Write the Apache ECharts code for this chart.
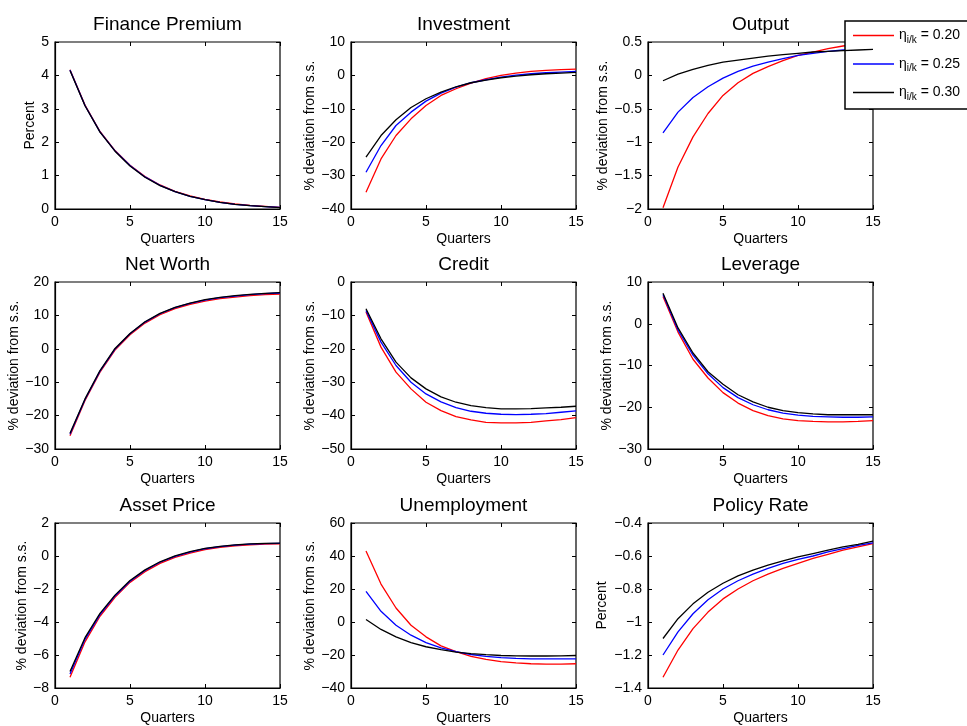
<!DOCTYPE html>
<html><head><meta charset="utf-8">
<title>Impulse responses</title>
<script src="https://cdn.jsdelivr.net/npm/echarts@6/dist/echarts.min.js"></script>
<style>
  html, body { margin: 0; padding: 0; background: #fff; }
  #chart { width: 967px; height: 726px; }
</style>
</head>
<body>
<div id="chart"></div>
<script>
// horizon
var quarters = [1, 2, 3, 4, 5, 6, 7, 8, 9, 10, 11, 12, 13, 14, 15];
var etaLabels = ['0.20', '0.25', '0.30'];
var lineColors = ['#ff0000', '#0000ff', '#000000'];

// Finance Premium
var finRed   = [4.17, 3.11, 2.32, 1.75, 1.31, 0.97, 0.72, 0.53, 0.39, 0.29, 0.21, 0.15, 0.11, 0.08, 0.05];
var finBlue  = [4.16, 3.10, 2.31, 1.74, 1.30, 0.96, 0.71, 0.52, 0.38, 0.28, 0.20, 0.14, 0.10, 0.07, 0.05];
var finBlack = [4.15, 3.09, 2.30, 1.73, 1.29, 0.95, 0.70, 0.52, 0.38, 0.28, 0.20, 0.14, 0.10, 0.07, 0.04];
// Investment
var invRed   = [-35, -25, -18, -13, -9, -6, -4, -2.3, -1, 0, 0.7, 1.2, 1.5, 1.7, 1.9];
var invBlue  = [-29, -21, -15, -11, -7.7, -5.3, -3.5, -2.2, -1.3, -0.5, 0.1, 0.5, 0.8, 1.0, 1.2];
var invBlack = [-24.5, -18, -13.3, -9.6, -7, -5, -3.4, -2.2, -1.4, -0.7, -0.2, 0.2, 0.5, 0.7, 0.9];
// Output
var outRed   = [-1.98, -1.37, -0.92, -0.57, -0.30, -0.11, 0.03, 0.13, 0.22, 0.30, 0.35, 0.40, 0.44, 0.47, 0.50];
var outBlue  = [-0.86, -0.55, -0.33, -0.17, -0.04, 0.06, 0.14, 0.20, 0.25, 0.30, 0.33, 0.36, 0.38, 0.39, 0.41];
var outBlack = [-0.08, 0.02, 0.09, 0.15, 0.20, 0.23, 0.26, 0.29, 0.31, 0.33, 0.35, 0.36, 0.37, 0.38, 0.39];
// Net Worth
var nwRed    = [-26, -15.5, -7, -0.4, 4.2, 7.7, 10.2, 12.0, 13.3, 14.3, 15.0, 15.5, 15.9, 16.2, 16.4];
var nwBlue   = [-25.6, -15.2, -6.7, -0.1, 4.5, 8.0, 10.5, 12.3, 13.6, 14.6, 15.3, 15.8, 16.2, 16.5, 16.7];
var nwBlack  = [-25.3, -15, -6.5, 0.1, 4.6, 8.1, 10.6, 12.4, 13.7, 14.7, 15.4, 15.9, 16.3, 16.6, 16.8];
// Credit
var crRed    = [-9, -19.5, -27, -32, -36, -38.5, -40.3, -41.3, -42, -42.2, -42.2, -42, -41.6, -41.2, -40.6];
var crBlue   = [-8.5, -18, -25, -30, -33.5, -35.9, -37.6, -38.7, -39.3, -39.6, -39.7, -39.6, -39.4, -39.0, -38.6];
var crBlack  = [-8, -17, -24, -28.7, -32, -34.4, -36, -37, -37.6, -38, -38, -37.9, -37.7, -37.5, -37.2];
// Leverage
var levRed   = [6.5, -2, -8.5, -13, -16.5, -19, -20.8, -22, -22.8, -23.2, -23.4, -23.5, -23.5, -23.4, -23.2];
var levBlue  = [7, -1.5, -7.5, -12, -15.3, -17.7, -19.4, -20.6, -21.4, -21.9, -22.2, -22.3, -22.4, -22.4, -22.3];
var levBlack = [7.3, -1, -7, -11.5, -14.5, -17, -18.7, -20, -20.8, -21.3, -21.6, -21.8, -21.8, -21.8, -21.8];
// Asset Price
var apRed    = [-7.35, -5.2, -3.65, -2.5, -1.6, -0.95, -0.45, -0.08, 0.18, 0.38, 0.52, 0.62, 0.68, 0.72, 0.74];
var apBlue   = [-7.15, -5.05, -3.55, -2.42, -1.53, -0.88, -0.38, -0.02, 0.24, 0.44, 0.57, 0.66, 0.72, 0.75, 0.77];
var apBlack  = [-7.0, -4.95, -3.48, -2.37, -1.48, -0.84, -0.35, 0.01, 0.26, 0.46, 0.58, 0.67, 0.73, 0.76, 0.78];
// Unemployment
var unRed    = [43, 23, 8.5, -2, -9, -14.5, -18, -20.8, -22.7, -24, -24.8, -25.3, -25.5, -25.5, -25.3];
var unBlue   = [18.5, 6.5, -2, -8, -12.5, -15.7, -18, -19.7, -20.8, -21.6, -22, -22.3, -22.4, -22.4, -22.3];
var unBlack  = [1.5, -4.5, -9, -12.5, -15, -16.8, -18.2, -19.2, -19.8, -20.3, -20.5, -20.6, -20.6, -20.5, -20.3];
// Policy Rate
var prRed    = [-1.335, -1.17, -1.04, -0.94, -0.86, -0.80, -0.75, -0.71, -0.675, -0.645, -0.615, -0.59, -0.565, -0.545, -0.525];
var prBlue   = [-1.20, -1.06, -0.95, -0.865, -0.80, -0.75, -0.71, -0.675, -0.645, -0.62, -0.60, -0.575, -0.555, -0.535, -0.52];
var prBlack  = [-1.10, -0.98, -0.89, -0.82, -0.765, -0.72, -0.685, -0.655, -0.63, -0.605, -0.585, -0.565, -0.545, -0.53, -0.51];

var panels = [
  {title: 'Finance Premium', ylab: 'Percent', min: 0, max: 5, step: 1, gap: 17, lines: [finRed, finBlue, finBlack]},
  {title: 'Investment', ylab: '% deviation from s.s.', min: -40, max: 10, step: 10, gap: 31, lines: [invRed, invBlue, invBlack]},
  {title: 'Output', ylab: '% deviation from s.s.', min: -2, max: 0.5, step: 0.5, gap: 37, lines: [outRed, outBlue, outBlack]},
  {title: 'Net Worth', ylab: '% deviation from s.s.', min: -30, max: 20, step: 10, gap: 31, lines: [nwRed, nwBlue, nwBlack]},
  {title: 'Credit', ylab: '% deviation from s.s.', min: -50, max: 0, step: 10, gap: 29, lines: [crRed, crBlue, crBlack]},
  {title: 'Leverage', ylab: '% deviation from s.s.', min: -30, max: 10, step: 10, gap: 34, lines: [levRed, levBlue, levBlack]},
  {title: 'Asset Price', ylab: '% deviation from s.s.', min: -8, max: 2, step: 2, gap: 21, lines: [apRed, apBlue, apBlack]},
  {title: 'Unemployment', ylab: '% deviation from s.s.', min: -40, max: 60, step: 20, gap: 29, lines: [unRed, unBlue, unBlack]},
  {title: 'Policy Rate', ylab: 'Percent', min: -1.4, max: -0.4, step: 0.2, gap: 39, lines: [prRed, prBlue, prBlack]}
];

var colLeft = [55, 351, 648], rowTop = [42, 282, 523];
var plotW = 225, plotH = 167;
var FONT = '"Liberation Sans", Arial, Helvetica, sans-serif';

function fmt(v) {
  var s = String(+v.toFixed(2));
  return s.replace('-', '\u2212');
}

var grids = [], xAxes = [], yAxes = [], titles = [], series = [];

panels.forEach(function (p, i) {
  var c = i % 3, r = Math.floor(i / 3);
  grids.push({left: colLeft[c], top: rowTop[r], width: plotW, height: plotH,
    show: true, borderColor: '#000', borderWidth: 1.2, backgroundColor: '#fff'});
  titles.push({text: p.title, left: colLeft[c] + plotW / 2, top: rowTop[r] - 27, textAlign: 'center', padding: 0,
    textStyle: {fontFamily: FONT, fontSize: 19, fontWeight: 'normal', color: '#000'}});

  var tick = {show: true, inside: true, length: 4, lineStyle: {color: '#000', width: 1}};
  // bottom + top x axes
  xAxes.push({gridIndex: i, type: 'value', min: 0, max: 15, interval: 5, position: 'bottom',
    name: 'Quarters', nameLocation: 'middle', nameGap: 23,
    nameTextStyle: {fontFamily: FONT, fontSize: 14, color: '#000'},
    axisLine: {show: true, onZero: false, lineStyle: {color: '#000', width: 1.2}},
    axisTick: tick, splitLine: {show: false},
    axisLabel: {fontFamily: FONT, fontSize: 14, color: '#000', margin: 6}});
  xAxes.push({gridIndex: i, type: 'value', min: 0, max: 15, interval: 5, position: 'top',
    axisLine: {show: false, onZero: false}, axisTick: tick, splitLine: {show: false}, axisLabel: {show: false}});
  // left + right y axes
  yAxes.push({gridIndex: i, type: 'value', min: p.min, max: p.max, interval: p.step, position: 'left',
    name: p.ylab, nameLocation: 'middle', nameGap: p.gap, nameRotate: 90,
    nameTextStyle: {fontFamily: FONT, fontSize: 14, color: '#000'},
    axisLine: {show: true, onZero: false, lineStyle: {color: '#000', width: 1.2}},
    axisTick: tick, splitLine: {show: false},
    axisLabel: {fontFamily: FONT, fontSize: 14, color: '#000', margin: 6, formatter: fmt}});
  yAxes.push({gridIndex: i, type: 'value', min: p.min, max: p.max, interval: p.step, position: 'right',
    axisLine: {show: false, onZero: false}, axisTick: tick, splitLine: {show: false}, axisLabel: {show: false}});

  p.lines.forEach(function (vals, k) {
    series.push({
      name: 'eta' + etaLabels[k], type: 'line', xAxisIndex: 2 * i, yAxisIndex: 2 * i,
      data: quarters.map(function (q, j) { return [q, vals[j]]; }),
      showSymbol: false, symbol: 'none', smooth: false, animation: false,
      lineStyle: {color: lineColors[k], width: 1.3}, itemStyle: {color: lineColors[k]},
      z: 2 + k
    });
  });
});

var chart = echarts.init(document.getElementById('chart'));
chart.setOption({
  animation: false,
  title: titles,
  grid: grids,
  xAxis: xAxes,
  yAxis: yAxes,
  legend: {
    data: etaLabels.map(function (e) { return 'eta' + e; }),
    orient: 'vertical', left: 845, top: 21,
    backgroundColor: '#fff', borderColor: '#000', borderWidth: 1.5,
    padding: [5, 8, 7, 8], itemGap: 9.5, itemWidth: 41, itemHeight: 1.5,
    icon: 'rect', selectedMode: false,
    formatter: function (name) {
      return '{e|\u03b7}{s|i/k}{t| = ' + name.slice(3) + '}';
    },
    textStyle: {
      fontFamily: FONT, fontSize: 14, color: '#000',
      rich: {
        e: {fontFamily: FONT, fontSize: 14, color: '#000', lineHeight: 17},
        s: {fontFamily: FONT, fontSize: 10, color: '#000', padding: [9, 0, 0, 0], lineHeight: 17},
        t: {fontFamily: FONT, fontSize: 14, color: '#000', lineHeight: 17}
      }
    }
  },
  series: series
});
</script>
</body></html>
